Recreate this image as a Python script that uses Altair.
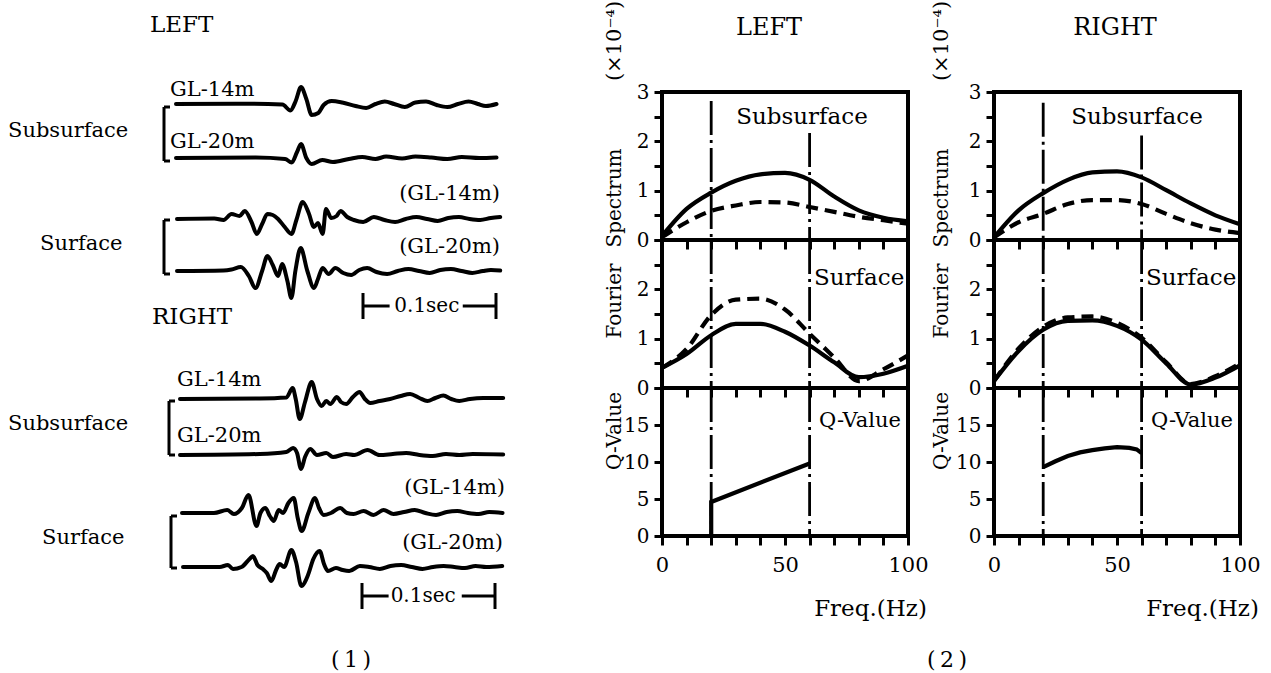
import altair as alt
import pandas as pd

FONT = "DejaVu Serif"

# ===================== DATA =====================
# (1) Waveform records: time [ms] from record start, relative amplitude (upward +)
L_sub14_t = [0, 45, 80, 86, 90, 94, 98, 102, 107, 111, 117, 125, 135, 143, 150, 157, 164, 172, 180, 188, 196, 204, 212, 220, 227, 233, 241]
L_sub14_a = [0, 0.3, -0.5, -6.5, 3, 17, 5, -11, -9, -1, 3, 1.5, -2, -4, 0, 2.5, 0, -3, 1.5, 2.5, -1, -3, 0, 2.5, 0, -2, 0]

L_sub20_t = [0, 60, 82, 87, 91, 94, 98, 102, 110, 118, 130, 140, 150, 158, 170, 180, 192, 204, 215, 228, 241]
L_sub20_a = [0, 0.5, -1, -4.5, 6, 14, 0, -6, -2, -4, -1, 1, -1, 1.5, -0.5, 1.5, 0.5, -1, 1, 0, 0.5]

L_sur14_t = [0, 28, 35, 41, 47, 51, 56, 60, 64, 68, 72, 76, 81, 86, 90, 94.5, 99, 103, 106, 109.5, 112, 116, 120, 123, 128, 133, 140, 148, 156, 164, 172, 180, 188, 196, 204, 212, 220, 228, 236, 243]
L_sur14_a = [0, 0.5, -1, 5, 3, 8, -3, -15, -5, 5, 4, 0, -8, -15, 0, 17, 6, -8, -4, -15, 10, 1, 3, 8, 2, -1, -3, 2, -1, -3, 0, 2, 0, -2, 1, 2, 0, -1, 1, 2]

L_sur20_t = [0, 35, 41, 48, 54, 59, 64, 68, 72, 76, 79, 83, 86, 89, 93, 98, 103, 106, 109.5, 114, 119, 125, 131, 137, 143, 150, 158, 166, 174, 182, 190, 198, 206, 214, 222, 230, 236, 243]
L_sur20_a = [0, 0.5, 1.5, 4, -5, -17, 0, 15, 6, -5, 7, -10, -27, 0, 23, 0, -17, -8, 3, -3, 3, -2, -4, 1, 3, -1, -3, 0, 2, 0, -2, 1, 2, 0, -2, 0, 1, 0.5]

R_sub14_t = [0, 60, 80, 84.7, 87, 90, 94, 99, 103, 106.5, 110, 113, 118, 121, 125, 130, 135, 139, 143, 150, 158, 166, 173, 180, 186, 192, 198, 204, 210, 218, 228, 243]
R_sub14_a = [0, 0.5, 1.5, 11, 0, -20, -3, 17, 0, -7, -2, -5, 2, -3, -5, 2, 7, 0, -4, -2, 0, 3, 5, 1, -2, 1, 3.5, 0, -2, 0, 1, 1]

R_sub20_t = [0, 60, 80, 85, 88, 91, 94, 98, 103, 110, 115, 125, 131, 141, 150, 160, 170, 180, 190, 200, 210, 220, 243]
R_sub20_a = [0, 1, 3, 7, 2, -14, -2, 6, 0, 2, -2, 1, 0, 5, 0, 1, 2, 0, -1, 1, 0, 1, 0.5]

R_sur14_t = [0, 24, 34, 39, 45, 50, 56, 59, 62.7, 66, 69, 72.7, 76, 80, 84, 87, 90, 95, 100, 103, 106.5, 112, 119, 124, 129, 136.6, 144, 151.6, 159, 167, 175, 183, 191, 199, 207, 215, 223, 231, 241]
R_sur14_a = [0, 0, 3, -1, 5, 18, -13, 0, 5, -3, -8, 3, 0, 10, 15, -5, -18, 0, 15, 5, -2, 0, 5, 0, -1, 2, -2, 3, -1, 1, 3, 0, -2, 1, 2, 0, -1, 1, 0]

R_sur20_t = [0, 27.6, 33.8, 37.6, 44, 50, 52.6, 56, 60, 63, 66.4, 70, 72.7, 76, 81.5, 85, 89, 94, 98, 102.8, 106, 109, 115, 120, 125, 133, 140, 148, 156, 164, 172, 180, 188, 196, 204, 212, 220, 228, 240]
R_sur20_a = [0, 0, 2, -2, 0, 8, 11, 2, -2, -6, -14, -3, 3, 0, 17, 5, -19, -8, 8, 16, 3, -4, -1, -3, -4, 1, 0, -2, 1, 2, 0, -2, 0, 1, 0, -1, 1, 0, 1]

SCALE_BAR_MS = 100  # 0.1 sec

# (2) Fourier spectra (x1e-4) and Q-values
freq = [0, 10, 20, 30, 40, 50, 60, 70, 80, 90, 100]
L_sub_gl14 = [0.08, 0.63, 0.96, 1.20, 1.33, 1.36, 1.22, 0.88, 0.60, 0.45, 0.38]
L_sub_gl20 = [0.06, 0.36, 0.59, 0.70, 0.77, 0.76, 0.67, 0.57, 0.47, 0.40, 0.33]
L_sur_gl14 = [0.41, 0.69, 1.07, 1.30, 1.30, 1.14, 0.86, 0.52, 0.22, 0.29, 0.45]
L_sur_gl20 = [0.41, 0.79, 1.48, 1.79, 1.81, 1.59, 1.10, 0.62, 0.14, 0.38, 0.66]
R_sub_gl14 = [0.05, 0.60, 0.95, 1.22, 1.37, 1.39, 1.27, 1.01, 0.74, 0.50, 0.32]
R_sub_gl20 = [0.05, 0.36, 0.53, 0.73, 0.81, 0.81, 0.73, 0.53, 0.34, 0.21, 0.14]
R_sur_gl14 = [0.14, 0.75, 1.18, 1.36, 1.37, 1.26, 0.98, 0.50, 0.07, 0.21, 0.46]
R_sur_gl20 = [0.14, 0.80, 1.24, 1.43, 1.45, 1.32, 1.02, 0.52, 0.08, 0.24, 0.50]

L_q_freq = [20, 20, 60]
L_q_val = [0, 4.6, 9.8]
R_q_freq = [20, 25, 30, 35, 40, 45, 50, 55, 58, 60]
R_q_val = [9.3, 10.1, 10.8, 11.3, 11.6, 11.85, 12.0, 11.9, 11.7, 11.2]

band_edges = [20, 60]
freq_ticks = list(range(0, 101, 10))
spec_ticks = [0, 0.5, 1, 1.5, 2, 2.5, 3]
q_ticks = [0, 5, 10, 15, 20]

# ===================== LAYOUT (pixels) =====================
PX_MS = 1.33
X0 = 176
WAVE_W, WAVE_H = 576, 673
PANEL_W, PANEL_H = 246, 148
HEAD_H = 91
GAP = 86
LW = 4.2


def px2ms(px):
    return (px - X0) / PX_MS


traces = [
    (L_sub14_t, L_sub14_a, 176, 103),
    (L_sub20_t, L_sub20_a, 176, 157),
    (L_sur14_t, L_sur14_a, 177, 218),
    (L_sur20_t, L_sur20_a, 177, 270),
    (R_sub14_t, R_sub14_a, 180, 398),
    (R_sub20_t, R_sub20_a, 180, 454),
    (R_sur14_t, R_sur14_a, 182, 512),
    (R_sur20_t, R_sur20_a, 183, 566),
]
rows = []
for i, (ts, amps, start, base) in enumerate(traces):
    for t, a in zip(ts, amps):
        rows.append({"trace": i, "x": t + px2ms(start), "y": base - a})
wave_df = pd.DataFrame(rows)

xw = alt.Scale(domain=[px2ms(0), px2ms(WAVE_W)], nice=False, zero=False)
yw = alt.Scale(domain=[0, WAVE_H], range=[0, WAVE_H], nice=False, zero=False)

wave_lines = alt.Chart(wave_df).mark_line(
    color="black", strokeWidth=4.0, interpolate="monotone", strokeCap="round", strokeJoin="round"
).encode(
    x=alt.X("x:Q", scale=xw, axis=None),
    y=alt.Y("y:Q", scale=yw, axis=None),
    detail="trace:N",
)

brackets = [(164, 106, 160), (164, 219, 273), (169, 400, 454), (171, 515, 567)]
seg = []
for bx, top, bot in brackets:
    seg.append({"x": px2ms(bx), "y": top, "x2": px2ms(bx), "y2": bot})
    seg.append({"x": px2ms(bx), "y": top, "x2": px2ms(bx + 6), "y2": top})
    seg.append({"x": px2ms(bx), "y": bot, "x2": px2ms(bx + 6), "y2": bot})

bars = [(363, 305, 20, 75), (362, 595, 20, 75)]
for sx, sy, lend, rstart in bars:
    s = px2ms(sx)
    seg.append({"x": s, "y": sy, "x2": s + lend, "y2": sy})
    seg.append({"x": s + rstart, "y": sy, "x2": s + SCALE_BAR_MS, "y2": sy})
    seg.append({"x": s, "y": sy - 13, "x2": s, "y2": sy + 13})
    seg.append({"x": s + SCALE_BAR_MS, "y": sy - 13, "x2": s + SCALE_BAR_MS, "y2": sy + 13})
seg_df = pd.DataFrame(seg)

wave_segs = alt.Chart(seg_df).mark_rule(color="black", strokeWidth=3).encode(
    x=alt.X("x:Q", scale=xw, axis=None),
    x2="x2:Q",
    y=alt.Y("y:Q", scale=yw, axis=None),
    y2="y2:Q",
)


def label(text, x, y, align="left", size=21, angle=0):
    return alt.Chart(pd.DataFrame({"t": [text]})).mark_text(
        align=align, baseline="middle", x=x, y=y, fontSize=size, font=FONT,
        angle=angle, color="black"
    ).encode(text="t:N")


wave_texts = [
    label("LEFT", 150, 24, size=23),
    label("GL-14m", 170, 89),
    label("Subsurface", 8, 130),
    label("GL-20m", 170, 141),
    label("(GL-14m)", 500, 193, align="right"),
    label("Surface", 40, 243),
    label("(GL-20m)", 500, 246, align="right"),
    label("0.1sec", (363 + 48 * PX_MS), 305, align="center", size=20),
    label("RIGHT", 152, 316, size=23),
    label("GL-14m", 177, 379),
    label("Subsurface", 8, 423),
    label("GL-20m", 177, 435),
    label("(GL-14m)", 505, 487, align="right"),
    label("Surface", 42, 537),
    label("(GL-20m)", 503, 542, align="right"),
    label("0.1sec", (362 + 46 * PX_MS), 595, align="center", size=20),
    label("(\u20091\u2009)", 351, 659, align="center", size=22),
]

# the record view occupies the first grid cell; its y-range reaches the full figure height
wave = alt.layer(wave_lines, wave_segs, *wave_texts).properties(width=WAVE_W, height=HEAD_H)


# ===================== PANELS =====================
def make_panel(kind, solid, dashed, qf, qv, edge_tops, texts):
    xs = alt.Scale(domain=[0, 100], nice=False, zero=False)
    if kind == "q":
        ys = alt.Scale(domain=[0, 20], nice=False)
        yaxis = alt.Axis(values=q_ticks, labelExpr="datum.value < 20 ? '' + datum.value : ''",
                         tickSize=8, tickWidth=3, labelPadding=5, labelOverlap=False,
                         labelFontSize=20, title=None)
        xaxis = alt.Axis(values=freq_ticks, labelExpr="datum.value % 50 === 0 ? '' + datum.value : ''",
                         labelFlush=False, labelOverlap=False, labelPadding=9, labelFontSize=21,
                         tickSize=9, tickWidth=3, title="Freq.(Hz)", titleFontSize=23,
                         titleX=208, titleY=72, titleAlign="center", titleBaseline="middle")
    else:
        ys = alt.Scale(domain=[0, 3], nice=False)
        if kind == "spec":
            lab = "datum.value % 1 === 0 ? '' + datum.value : ''"
        else:
            lab = "datum.value % 1 === 0 && datum.value < 3 ? '' + datum.value : ''"
        yaxis = alt.Axis(values=spec_ticks, labelExpr=lab, tickSize=8, tickWidth=3,
                         labelPadding=5, labelOverlap=False, labelFontSize=20, title=None)
        xaxis = alt.Axis(values=freq_ticks, labels=False, tickSize=9, tickWidth=3, title=None)

    layers = []
    rule_df = pd.DataFrame({"f": band_edges, "top": edge_tops})
    layers.append(alt.Chart(rule_df).mark_rule(color="black", strokeWidth=2.8, strokeDash=[34, 5, 3, 5]).encode(
        x=alt.X("f:Q", scale=xs, axis=xaxis),
        y=alt.Y("top:Q", scale=ys, axis=yaxis),
        y2=alt.datum(0),
    ))
    if kind != "q":
        df = pd.DataFrame({"f": freq, "s": solid, "d": dashed})
        layers.append(alt.Chart(df).mark_line(color="black", strokeWidth=LW, interpolate="monotone").encode(
            x=alt.X("f:Q", scale=xs, axis=xaxis), y=alt.Y("s:Q", scale=ys, axis=yaxis)))
        layers.append(alt.Chart(df).mark_line(color="black", strokeWidth=LW, interpolate="monotone",
                                              strokeDash=[12, 7]).encode(
            x=alt.X("f:Q", scale=xs, axis=xaxis), y=alt.Y("d:Q", scale=ys, axis=yaxis)))
    else:
        df = pd.DataFrame({"f": qf, "q": qv, "i": list(range(len(qf)))})
        layers.append(alt.Chart(df).mark_line(color="black", strokeWidth=LW, interpolate="linear").encode(
            x=alt.X("f:Q", scale=xs, axis=xaxis), y=alt.Y("q:Q", scale=ys, axis=yaxis), order="i:Q"))
    frame = alt.Chart(pd.DataFrame({"k": [0]})).mark_rect(
        fillOpacity=0, stroke="black", strokeWidth=4
    ).encode(x=alt.value(0), x2=alt.value(PANEL_W), y=alt.value(0), y2=alt.value(PANEL_H))
    layers.append(frame)
    layers.extend(texts)
    return alt.layer(*layers).properties(width=PANEL_W, height=PANEL_H)


def header(text, cx):
    return label(text, cx, 27, align="center", size=24).properties(width=PANEL_W, height=HEAD_H)


def blank():
    return label("", 0, 0).properties(width=WAVE_W, height=PANEL_H)


def col(name, hx, tx, sub14, sub20, sur14, sur20, qf, qv, sub_tops, sub_cx, extra_q=None):
    spec = make_panel("spec", sub14, sub20, None, None, sub_tops, [
        label("Subsurface", sub_cx, 25, align="center", size=23),
        label("(\u00d710\u207b\u2074)", tx, 40 - HEAD_H, align="center", size=21, angle=270),
        label("Spectrum", tx, 197 - HEAD_H, align="center", size=20, angle=270),
    ])
    four = make_panel("four", sur14, sur20, None, None, [3, 3], [
        label("Surface", 152, 38, size=23),
        label("Fourier", tx, 300 - HEAD_H - PANEL_H, align="center", size=20, angle=270),
    ])
    qtexts = [
        label("Q-Value", 157, 33, size=21),
        label("Q-Value", tx, 430 - HEAD_H - 2 * PANEL_H, align="center", size=20, angle=270),
    ]
    if extra_q is not None:
        qtexts.append(extra_q)
    q = make_panel("q", None, None, qf, qv, [20, 20], qtexts)
    return header(name, hx), spec, four, q


hL, sL, fL, qL = col("LEFT", 107, -47, L_sub_gl14, L_sub_gl20, L_sur_gl14, L_sur_gl20,
                     L_q_freq, L_q_val, [2.82, 2.17], 140,
                     extra_q=label("(\u20092\u2009)", 285, 272, align="center", size=22))
hR, sR, fR, qR = col("RIGHT", 121, -52, R_sub_gl14, R_sub_gl20, R_sur_gl14, R_sur_gl20,
                     R_q_freq, R_q_val, [2.78, 2.12], 143)

cells = [wave, hL, hR,
         blank(), sL, sR,
         blank(), fL, fR,
         blank(), qL, qR]

chart = alt.concat(
    *cells, columns=3, spacing=alt.RowColnumber(row=0, column=GAP), bounds="flush"
).properties(
    padding=0, background="white"
).configure_view(stroke=None).configure_axis(
    labelFont=FONT, labelColor="black", tickColor="black", titleFont=FONT,
    titleColor="black", titleFontWeight="normal", domain=False, grid=False
)

chart.save("out.html", embed_options={"renderer": "svg", "actions": False})
